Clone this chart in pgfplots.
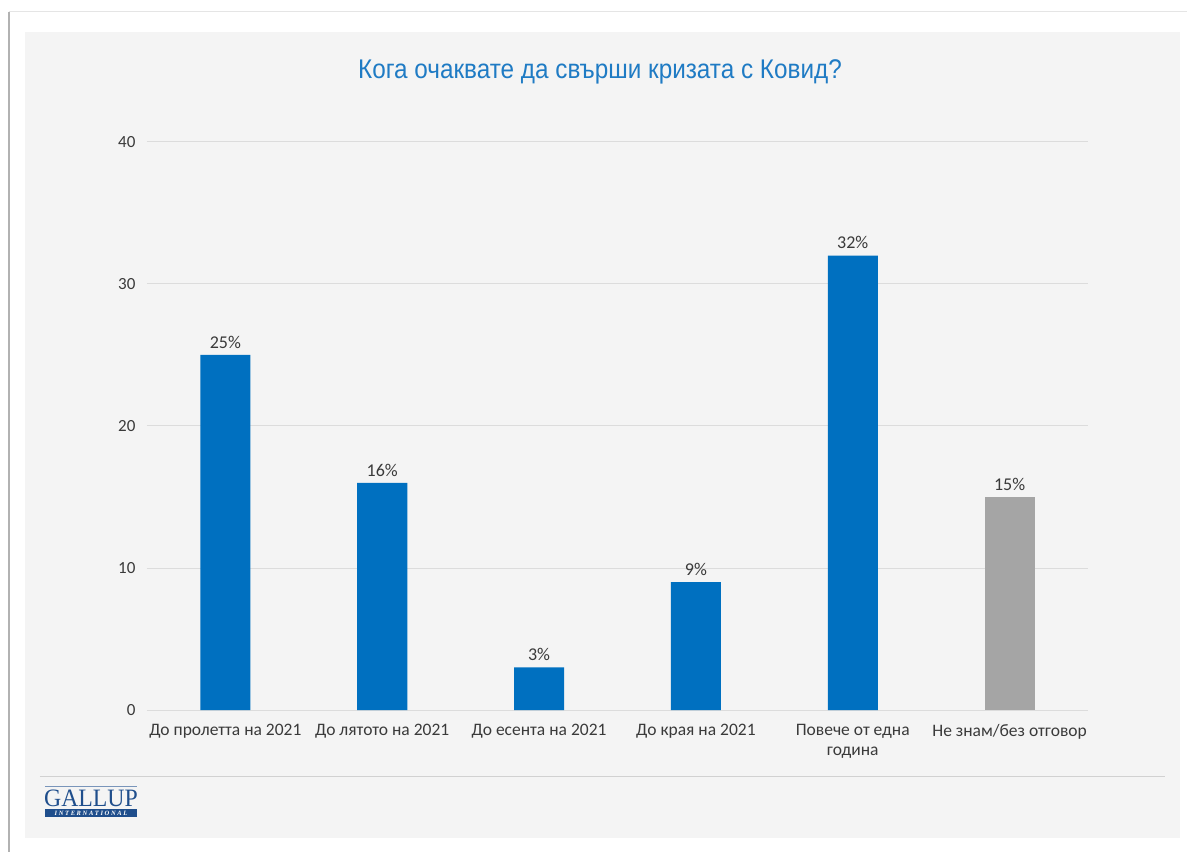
\documentclass[border=0pt]{standalone}
\usepackage{pgfplots}
\pgfplotsset{compat=1.18}
\usepackage{fontspec}
\setmainfont{Carlito}
\newfontfamily\titlefont{Liberation Sans}
\newfontfamily\logofont{Liberation Serif}
\definecolor{barblue}{HTML}{0070C0}
\definecolor{bargray}{HTML}{A5A5A5}
\definecolor{titleblue}{HTML}{1F7BC4}
\definecolor{panel}{HTML}{F4F4F4}
\definecolor{txt}{HTML}{3A3A3A}
\definecolor{gridc}{HTML}{DCDCDC}
\definecolor{logoblue}{HTML}{1F4E8C}
\begin{document}
\begin{tikzpicture}[x=1pt,y=1pt]
\useasboundingbox (-147,-142) rectangle (1040,710);
\fill[white] (-147,-142) rectangle (1040,710);
\draw[color=black!30, line width=1.5pt] (-138,-142) -- (-138,698);
\draw[color=black!10, line width=1pt] (-138,698) -- (1040,698);
\fill[panel] (-122,-128) rectangle (1033,678);
\draw[color=black!18, line width=1pt] (-107,-66) -- (1018,-66);
\node[font=\titlefont\fontsize{27}{30}\selectfont, text=titleblue, xscale=0.9] at (453,638) {Кога очаквате да свърши кризата с Ковид?};
% logo
\draw[logoblue!60, line width=0.6pt] (-102,-76) -- (-10,-76);
\node[font=\logofont\fontsize{25}{25}\selectfont, text=logoblue, inner sep=0pt, anchor=base, xscale=0.95] at (-56,-96) {GALLUP};
\fill[logoblue] (-102,-99) rectangle (-10,-107);
\node[font=\logofont\bfseries\itshape\fontsize{6.5}{6.5}\selectfont, text=white, inner sep=0pt] at (-56,-103) {I N T E R N A T I O N A L};
\begin{axis}[
  at={(0,0)}, anchor=south west,
  scale only axis, width=941pt, height=568pt,
  ymin=0, ymax=40, xmin=-0.5, xmax=5.5,
  ytick={0,10,20,30,40},
  xtick={0,1,2,3,4,5},
  xticklabels={До пролетта на 2021, До лятото на 2021, До есента на 2021, До края на 2021, {Повече от една\\година}, Не знам/без отговор},
  xticklabel style={align=center, font=\fontsize{17.5}{20}\selectfont, text=txt, anchor=north, yshift=-11pt},
  yticklabel style={font=\fontsize{17}{18}\selectfont, text=txt, xshift=-8pt},
  /pgf/number format/assume math mode=true,
  axis line style={draw=none},
  major tick length=0pt,
  ymajorgrids, grid style={gridc, line width=1pt},
  ybar, bar width=50pt, bar shift=0pt,
  nodes near coords={\pgfmathprintnumber{\pgfplotspointmeta}\%},
  every node near coord/.append style={font=\fontsize{18}{20}\selectfont, text=txt, yshift=3pt},
  clip=false,
]
\addplot[fill=barblue, draw=none] coordinates {(0,25) (1,16) (2,3) (3,9) (4,32)};
\addplot[fill=bargray, draw=none] coordinates {(5,15)};
\end{axis}
\end{tikzpicture}
\end{document}
